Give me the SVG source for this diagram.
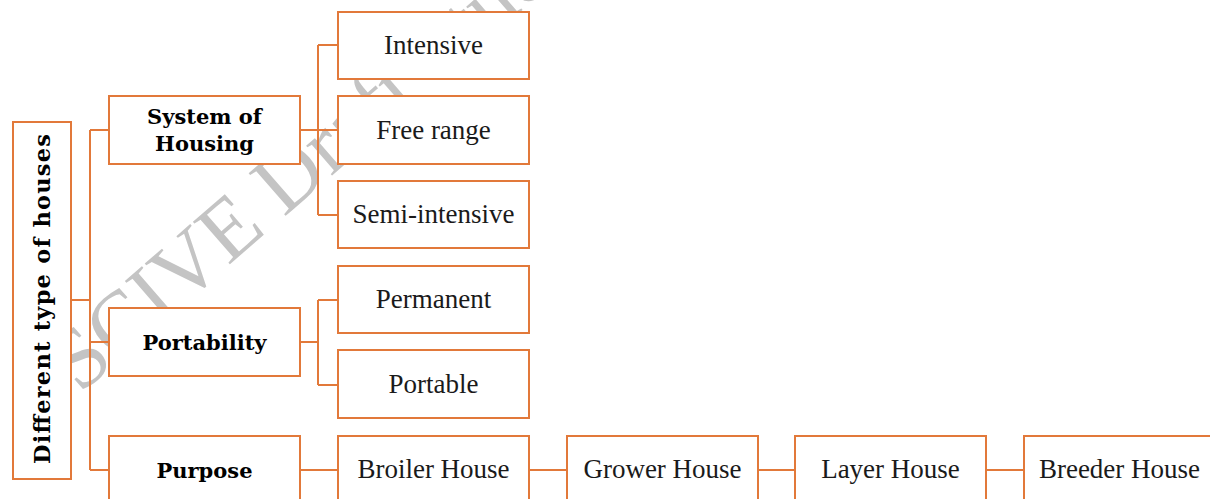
<svg xmlns="http://www.w3.org/2000/svg" width="1210" height="499" viewBox="0 0 1210 499">
<style>
.box{fill:#fff;stroke:#E2793A;stroke-width:2}
.ln{fill:none;stroke:#E2793A;stroke-width:2}
.b{font-family:"DejaVu Serif",serif;font-weight:bold;font-size:21px;fill:#000;text-anchor:middle}
.r{font-family:"Liberation Serif",serif;font-size:27px;fill:#1a1a1a;text-anchor:middle}
.wm{font-family:"Liberation Serif",serif;font-size:86px;fill:#c4c4c4}
</style>
<rect width="1210" height="499" fill="#fff"/>
<text class="wm" transform="translate(44,426) rotate(-41)">SSCIVE Draft Study Material</text>
<g id="connectors">
<path class="ln" d="M71,300H90M90,130V470M90,130H109M90,342H109M90,470H109"/>
<path class="ln" d="M300,130H338M318,45V215M318,45H338M318,215H338"/>
<path class="ln" d="M300,342H318M318,300V385M318,300H338M318,385H338"/>
<path class="ln" d="M300,470H338M529,470H567M758,470H795M986,470H1024"/>
</g>
<g id="root"><rect class="box" x="13" y="122" width="58" height="357"/><text class="b" style="font-size:22.5px" transform="translate(50,299) rotate(-90)" textLength="330" lengthAdjust="spacing">Different type of houses</text></g>
<g id="system"><rect class="box" x="109" y="96" width="191" height="68"/><text class="b" x="204.5" y="124">System of</text><text class="b" x="204.5" y="151">Housing</text></g>
<g id="portability"><rect class="box" x="109" y="308" width="191" height="68"/><text class="b" x="204.5" y="350">Portability</text></g>
<g id="purpose"><rect class="box" x="109" y="436" width="191" height="68"/><text class="b" x="204.5" y="478">Purpose</text></g>
<g id="intensive"><rect class="box" x="338" y="12" width="191" height="67"/><text class="r" x="433.5" y="54">Intensive</text></g>
<g id="freerange"><rect class="box" x="338" y="96" width="191" height="68"/><text class="r" x="433.5" y="139">Free range</text></g>
<g id="semi"><rect class="box" x="338" y="181" width="191" height="67"/><text class="r" x="433.5" y="223">Semi-intensive</text></g>
<g id="permanent"><rect class="box" x="338" y="266" width="191" height="67"/><text class="r" x="433.5" y="308">Permanent</text></g>
<g id="portable"><rect class="box" x="338" y="350" width="191" height="68"/><text class="r" x="433.5" y="393">Portable</text></g>
<g id="broiler"><rect class="box" x="338" y="436" width="191" height="68"/><text class="r" x="433.5" y="478">Broiler House</text></g>
<g id="grower"><rect class="box" x="567" y="436" width="191" height="68"/><text class="r" x="662.5" y="478">Grower House</text></g>
<g id="layer"><rect class="box" x="795" y="436" width="191" height="68"/><text class="r" x="890.5" y="478">Layer House</text></g>
<g id="breeder"><rect class="box" x="1024" y="436" width="191" height="68"/><text class="r" x="1119.5" y="478">Breeder House</text></g>
</svg>
